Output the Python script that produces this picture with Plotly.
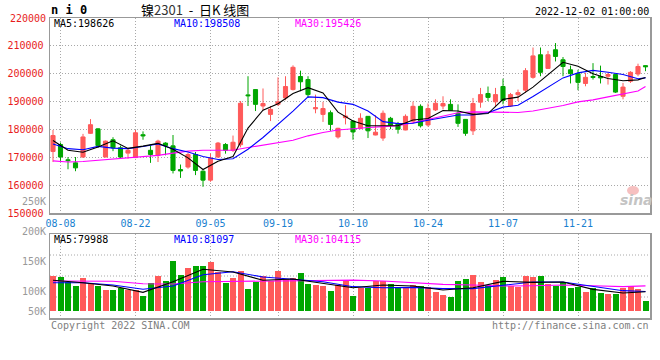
import plotly.graph_objects as go

# ---------------- data ----------------
dates = ['08-05', '08-08', '08-09', '08-10', '08-11', '08-12', '08-15', '08-16', '08-17', '08-18',
         '08-19', '08-22', '08-23', '08-24', '08-25', '08-26', '08-29', '08-30', '08-31', '09-01',
         '09-02', '09-05', '09-06', '09-07', '09-08', '09-09', '09-13', '09-14', '09-15', '09-16',
         '09-19', '09-20', '09-21', '09-22', '09-23', '09-26', '09-27', '09-28', '09-29', '09-30',
         '10-10', '10-11', '10-12', '10-13', '10-14', '10-17', '10-18', '10-19', '10-20', '10-21',
         '10-24', '10-25', '10-26', '10-27', '10-28', '10-31', '11-01', '11-02', '11-03', '11-04',
         '11-07', '11-08', '11-09', '11-10', '11-11', '11-14', '11-15', '11-16', '11-17', '11-18',
         '11-21', '11-22', '11-23', '11-24', '11-25', '11-28', '11-29', '11-30', '12-01', '12-02']

opens = [172100, 174600, 169100, 168000, 170100, 178600, 180200, 170100, 176300, 173400,
         171500, 169900, 178100, 172500, 170700, 175100, 174100, 165600, 166500, 171000,
         165000, 161800, 170100, 174600, 172500, 174500, 192400, 194300, 188400, 185400,
         189000, 191300, 194300, 199000, 197900, 187400, 185400, 186000, 177300, 184200,
         183000, 180300, 184700, 178000, 176900, 184000, 182100, 179800, 183000, 188300,
         181600, 187000, 188400, 189000, 185800, 183600, 179500, 189800, 192900, 189900,
         195400, 188400, 192500, 194100, 198700, 206800, 201900, 208600, 205000, 201400,
         200000, 196500, 199000, 199000, 199100, 199700, 191900, 197300, 199900, 202900]
highs = [179800, 175300, 170100, 170100, 178400, 183700, 180400, 176000, 177200, 174200,
         173400, 179800, 179300, 174200, 176300, 175400, 178000, 167400, 171600, 171900,
         165300, 171300, 175500, 175100, 177800, 190200, 199100, 194400, 194700, 188400,
         198700, 199100, 203000, 201100, 199100, 192500, 189900, 186800, 180600, 188700,
         183200, 185800, 184800, 185100, 186800, 184500, 182700, 185400, 190000, 189000,
         189300, 190800, 191900, 190800, 189000, 183700, 191300, 194900, 195400, 194900,
         198200, 193100, 194300, 202000, 209400, 209400, 208200, 211000, 206000, 202900,
         201400, 200300, 203800, 202900, 200300, 199800, 196700, 200900, 203600, 203000]
lows = [168300, 168700, 165700, 165000, 169800, 178400, 173400, 170000, 172200, 169500,
        169500, 169700, 176300, 168000, 168300, 170700, 164200, 162600, 165900, 163600,
        159400, 161200, 169800, 171300, 171900, 173600, 188400, 186600, 186800, 183000,
        188400, 190500, 194000, 193700, 191300, 185800, 182700, 179500, 176700, 181800,
        176300, 180100, 176900, 177900, 175900, 180100, 178500, 179700, 182400, 180700,
        181000, 186600, 187200, 186600, 180900, 177700, 178000, 187800, 190200, 188000,
        189000, 188100, 190200, 193100, 198200, 199100, 201800, 204400, 199100, 196500,
        194100, 195500, 197900, 196500, 196100, 193100, 190800, 196700, 199100, 200900]
closes = [177800, 170100, 168800, 166200, 177300, 181700, 174200, 175800, 173400, 170100,
          172500, 178800, 177700, 171000, 175800, 174200, 165300, 165100, 171000, 165300,
          161800, 169700, 175100, 172500, 175400, 189400, 192100, 189000, 189300, 187200,
          189900, 195400, 202300, 197100, 192500, 187800, 187500, 181800, 180400, 184800,
          179100, 184000, 179500, 179000, 185800, 181500, 180100, 184700, 188300, 181300,
          187500, 189400, 189300, 186800, 182200, 178600, 189300, 192500, 191500, 192500,
          190400, 192500, 193200, 201100, 206400, 200500, 206800, 206200, 202600, 200000,
          196900, 198700, 198700, 198500, 199700, 193400, 195200, 200500, 202600, 202500]
volumes = [145250, 141100, 121700, 103750, 136950, 117600, 105100, 87150, 87150, 96800,
           87150, 87150, 62250, 114800, 145250, 124500, 207500, 149400, 178450, 186750,
           186750, 203350, 160500, 116200, 136950, 166000, 91300, 120350, 145250, 123100,
           166000, 131400, 136950, 157700, 113400, 109300, 105100, 83000, 107900, 125900,
           62250, 96800, 96800, 125900, 125900, 113400, 99600, 99600, 107900, 103750,
           99600, 80200, 66400, 58100, 124500, 132800, 149400, 120350, 109300, 130000,
           141100, 103750, 99600, 145250, 141100, 145250, 112050, 105100, 120350, 95450,
           99600, 78850, 94100, 74700, 70550, 70550, 96800, 103750, 91300, 41500]

ma_dates = dates[0:80:2] + ['12-02']
ma5 = [176000, 172500, 171800, 173700, 175900, 173200, 174000, 175000, 172900, 169800,
       165600, 168600, 170300, 180500, 186900, 189200, 192900, 195000, 193100, 186200,
       183000, 181300, 181300, 181300, 183400, 183900, 186800, 186600, 185400, 185700,
       190800, 191600, 195200, 199600, 204100, 202700, 200000, 198300, 197500, 197800, 198626]
ma10 = [174800, 173100, 172700, 173900, 173300, 173100, 173900, 174800, 173100, 171900,
        170300, 169200, 169500, 172900, 177100, 181800, 186600, 191700, 191400, 189800,
        189000, 186600, 182800, 182100, 182200, 183300, 184200, 185200, 185200, 186000,
        188000, 188700, 191800, 195100, 198500, 200300, 201200, 200500, 199700, 198200, 198508]
ma30 = [168700, 168300, 168500, 168900, 169300, 169700, 170100, 170700, 171500, 172200,
        172500, 172500, 172500, 173500, 174400, 175100, 176100, 177700, 178900, 179800,
        180300, 180700, 181000, 181300, 182400, 183600, 185000, 186000, 186300, 186300,
        186300, 186100, 186600, 187500, 188600, 189900, 190600, 191700, 192700, 193800, 195426]

vma_dates = dates[0:80:4] + ['12-02']
vma5 = [127400, 117400, 103750, 77600, 121600, 173000, 161850, 127400, 132800, 116200,
        96800, 107900, 103750, 87150, 96800, 123100, 118950, 120350, 89900, 74700, 79988]
vma10 = [117400, 117400, 107900, 90000, 103750, 150600, 163100, 141100, 131550, 121600,
         101000, 96800, 98200, 92700, 92700, 105100, 120350, 120350, 101000, 84400, 81097]
vma30 = [124500, 124500, 123250, 113300, 112050, 121600, 123250, 124500, 124500, 126000,
         128000, 124500, 117600, 110700, 107900, 103750, 105100, 107900, 105100, 101000, 104115]

tick_dates = ['08-08', '08-22', '09-05', '09-19', '10-10', '10-24', '11-07', '11-21']
price_ticks = [150000, 160000, 170000, 180000, 190000, 200000, 210000, 220000]
vol_labels = ['250K', '200K', '150K', '100K', '50K']

ma_titles = ['MA5:198626', 'MA10:198508', 'MA30:195426']
vma_titles = ['MA5:79988', 'MA10:81097', 'MA30:104115']

# ---------------- styling ----------------
W, H = 660, 360
RED = '#ff5a5a'
GREEN = '#00a600'
GRID = '#a8a8a8'
BORDER = '#999999'
MONO = 'DejaVu Sans Mono'
PRICE_RED = '#e81c1c'
MA_COLORS = ['#000000', '#0000ff', '#ff00ff']


def px(x):
    return x / W


def py(y):
    return 1 - y / H


pos = {d: i for i, d in enumerate(dates)}
xs = list(range(len(dates)))

fig = go.Figure()

fig.add_trace(go.Candlestick(
    x=xs, open=opens, high=highs, low=lows, close=closes,
    increasing=dict(line=dict(color=RED, width=1), fillcolor=RED),
    decreasing=dict(line=dict(color=GREEN, width=1), fillcolor=GREEN),
    whiskerwidth=0, showlegend=False, hoverinfo='skip', xaxis='x', yaxis='y'))

for vals, col in zip([ma30, ma10, ma5], [MA_COLORS[2], MA_COLORS[1], MA_COLORS[0]]):
    fig.add_trace(go.Scatter(x=[pos[d] for d in ma_dates], y=vals, mode='lines',
                             line=dict(color=col, width=1.1), showlegend=False,
                             hoverinfo='skip', xaxis='x', yaxis='y'))

bar_colors = [RED if c >= o else GREEN for o, c in zip(opens, closes)]
fig.add_trace(go.Bar(x=xs, y=volumes, marker=dict(color=bar_colors, line=dict(width=0)),
                     width=0.8, showlegend=False, hoverinfo='skip', xaxis='x2', yaxis='y2'))

for vals, col in zip([vma30, vma10, vma5], [MA_COLORS[2], MA_COLORS[1], MA_COLORS[0]]):
    fig.add_trace(go.Scatter(x=[pos[d] for d in vma_dates], y=vals, mode='lines',
                             line=dict(color=col, width=1.1), showlegend=False,
                             hoverinfo='skip', xaxis='x2', yaxis='y2'))

tickvals = [pos[d] for d in tick_dates]
xdom = [px(50), px(650)]
xrange_ = [-0.4, 79.6]

common_x = dict(domain=xdom, range=xrange_, tickvals=tickvals, showgrid=True,
                gridcolor=GRID, griddash='1px,2px', gridwidth=1, zeroline=False,
                showline=True, mirror=True, linecolor=BORDER, linewidth=1.5, ticks='',
                fixedrange=True, automargin=False)

axis_ticks = price_ticks[:-1]   # the top label is placed as a y-referenced annotation

fig.update_layout(
    width=W, height=H, margin=dict(l=0, r=0, t=0, b=0, autoexpand=False),
    paper_bgcolor='white', plot_bgcolor='white',
    boxgap=0.22, bargap=0,
    xaxis=dict(**common_x, anchor='y', ticktext=tick_dates,
               tickfont=dict(family=MONO, size=10, color='#1a7fd0'),
               rangeslider=dict(visible=False)),
    yaxis=dict(domain=[py(213), py(18)], range=[150000, 220000], tickvals=axis_ticks,
               ticktext=[str(v) for v in axis_ticks],
               tickfont=dict(family=MONO, size=10, color=PRICE_RED), showgrid=True,
               gridcolor=GRID, griddash='1px,2px', zeroline=False, showline=True,
               mirror=True, linecolor=BORDER, linewidth=1.5, ticks='', anchor='x',
               ticklabelstandoff=3, automargin=False, fixedrange=True),
    xaxis2=dict(**common_x, anchor='y2', showticklabels=False, matches='x'),
    yaxis2=dict(domain=[py(318), py(234)], range=[-29000, 319500], showticklabels=False,
                showgrid=False, zeroline=False, showline=True, mirror=True,
                linecolor=BORDER, linewidth=1.5, ticks='', anchor='x2', automargin=False,
                fixedrange=True),
)

shapes = []
for f in [0.25, 0.5, 0.75]:
    shapes.append(dict(type='line', xref='x2 domain', yref='y2 domain', x0=0, x1=1,
                       y0=f, y1=f, line=dict(color=GRID, width=1, dash='1px,2px'),
                       layer='below'))
# sina watermark eye
shapes.append(dict(type='circle', xref='paper', yref='paper', x0=px(627), x1=px(639),
                   y0=py(195), y1=py(186), fillcolor='#f4b0b0', line=dict(width=0),
                   opacity=0.8))
fig.update_layout(shapes=shapes)

ann = []


def text(x, y, s, color='#000', size=10, xanchor='left', family=MONO, yanchor='middle'):
    ann.append(dict(x=px(x), y=py(y), xref='paper', yref='paper', text=s, showarrow=False,
                    xanchor=xanchor, yanchor=yanchor,
                    font=dict(family=family, size=size, color=color), borderpad=0))


ann.append(dict(x=px(47), xref='paper', y=price_ticks[-1], yref='y', text=str(price_ticks[-1]),
                showarrow=False, xanchor='right', yanchor='middle', borderpad=0,
                font=dict(family=MONO, size=10, color=PRICE_RED)))

NB = '\u00a0'
text(50, 10, '<b>n i 0</b>', size=12)
text(195, 9, '镍<span style="color:#333">2301</span>' + NB * 2 + '-' + NB * 2 + '日K' + NB + '线图',
     size=13, xanchor='center', family='Noto Sans CJK SC')
text(650, 12, '2022-12-02 01:00:00', xanchor='right')

for s, x, c in zip(ma_titles, [53, 173, 294], MA_COLORS):
    text(x, 24, s, color=c)
for s, x, c in zip(vma_titles, [53, 173, 294], MA_COLORS):
    text(x, 239, s, color=c)

for s, y in zip(vol_labels, [201, 231, 261, 291, 311]):
    text(47, y, s, color='#999999', xanchor='right')

text(50, 325, 'Copyright 2022 SINA.COM', color='#808080')
text(650, 325, 'http://finance.sina.com.cn', color='#808080', xanchor='right')
text(636, 200, '<b><i>sina</i></b>', color='#c4c4c4', size=14, xanchor='center',
     family='DejaVu Sans')

fig.update_layout(annotations=ann)

fig.write_html('out.html', config={'displayModeBar': False, 'staticPlot': True},
               post_script="document.body.style.margin='0px';")
